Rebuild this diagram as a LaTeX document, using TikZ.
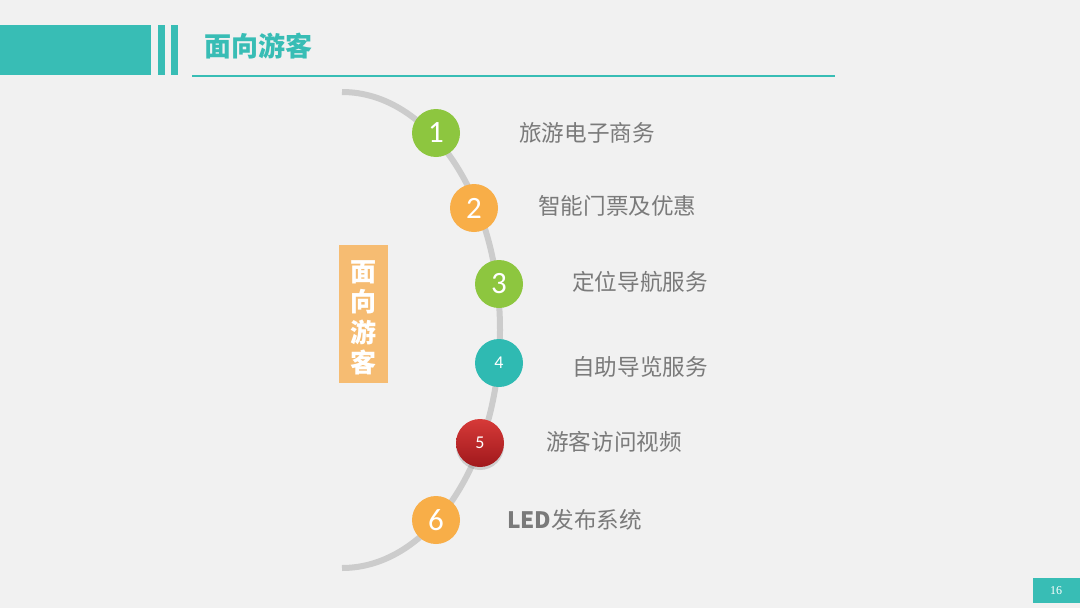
\documentclass[tikz,border=0pt]{standalone}
\usepackage{fontspec}
\usepackage{tikz}
\usetikzlibrary{shadows}
\newfontfamily\cjk{Noto Sans CJK SC}
\newfontfamily\numfont{Carlito}
\newfontfamily\pagefont{Liberation Serif}
\definecolor{bgcolor}{RGB}{241,241,241}
\definecolor{tealbar}{RGB}{56,189,181}
\definecolor{arcgray}{RGB}{204,204,204}
\definecolor{textgray}{RGB}{122,122,122}
\definecolor{dotgreen}{RGB}{141,198,63}
\definecolor{dotorange}{RGB}{248,174,72}
\definecolor{dotteal}{RGB}{47,186,178}
\definecolor{boxorange}{RGB}{246,188,114}
\newcommand{\dotsize}{48pt}
\newcommand{\itemsize}{\fontsize{22.6}{22.6}\selectfont}

\begin{document}
\begin{tikzpicture}[x=1pt,y=-1pt,
  dot/.style={circle, minimum size=\dotsize, inner sep=0pt, text=white,
    font=\numfont\fontsize{31}{31}\selectfont},
  smalldot/.style={dot, font=\numfont\fontsize{18}{18}\selectfont},
  item/.style={anchor=west, inner sep=0pt, text=textgray, font=\cjk\itemsize}]
\fill[bgcolor] (0,0) rectangle (1080,608);
\useasboundingbox (0,0) rectangle (1080,608);
%header
\fill[tealbar] (0,25) rectangle (151,75);
\fill[tealbar] (158,25) rectangle (165,75);
\fill[tealbar] (171,25) rectangle (178,75);
\node[anchor=west, inner sep=0pt, text=tealbar, font=\cjk\bfseries\fontsize{27}{27}\selectfont] (title) at (204,46) {面向游客};
\draw[tealbar, line width=2pt] (192,75.5) -- (835,75.5);
%arc
\draw[arcgray, line width=6pt] (342,92) arc[start angle=-90, end angle=90, x radius=158, y radius=238];
%dots
\node[dot, fill=dotgreen] (d1) at (436,133) {1};
\node[dot, fill=dotorange] (d2) at (474,208) {2};
\node[dot, fill=dotgreen] (d3) at (499,284) {3};
\node[smalldot, fill=dotteal] (d4) at (499,363) {4};
\node[smalldot, top color={rgb,255:red,214;green,58;blue,56}, bottom color={rgb,255:red,160;green,24;blue,28},
  drop shadow={shadow xshift=0pt, shadow yshift=-3pt, opacity=0.3}] (d5) at (480,443) {5};
\node[dot, fill=dotorange] (d6) at (436,520) {6};
%items
\node[item] (t1) at (519,133) {旅游电子商务};
\node[item] (t2) at (538,206) {智能门票及优惠};
\node[item] (t3) at (572,282) {定位导航服务};
\node[item] (t4) at (572,367) {自助导览服务};
\node[item] (t5) at (546,442) {游客访问视频};
\node[item] (t6) at (507,520) {{\bfseries LED}发布系统};
%side box
\node[fill=boxorange, minimum width=49pt, minimum height=138pt, inner sep=0pt] (side) at (363.5,314) {};
\node[align=center, inner sep=0pt, text=white, font=\cjk\bfseries\fontsize{26}{30.5}\selectfont] (sidetext) at (363.5,318) {面\\向\\游\\客};
%page number
\fill[tealbar] (1033,578) rectangle (1080,603);
\node[text=white, font=\pagefont\fontsize{12}{12}\selectfont] (page) at (1056,591) {16};
\end{tikzpicture}
\end{document}
